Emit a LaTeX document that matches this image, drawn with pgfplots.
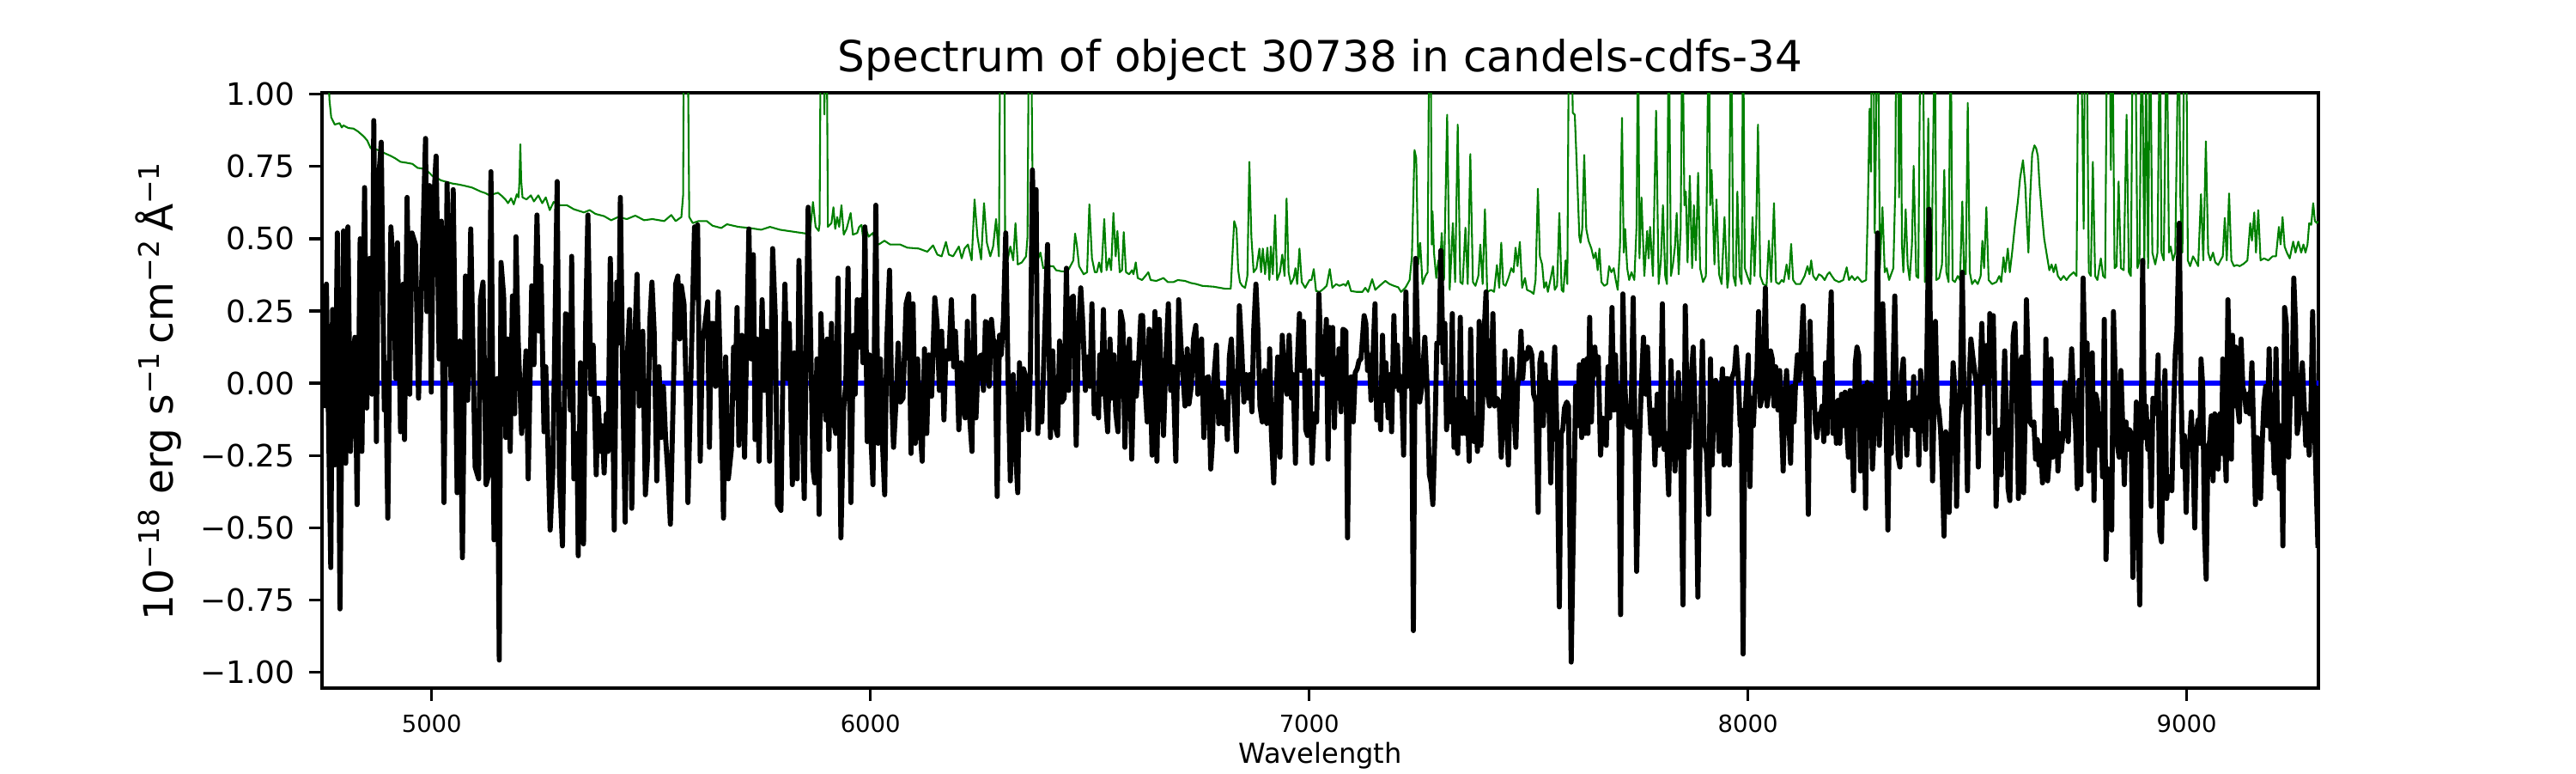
\documentclass[border=0pt]{standalone}
\usepackage{fontspec}
\setmainfont{DejaVu Sans}
\usepackage{pgfplots}
\usepackage{pgfplotstable}
\pgfplotsset{compat=1.18}
\definecolor{mplgreen}{RGB}{0,128,0}
\definecolor{mplblue}{RGB}{0,0,255}

\pgfplotstableread{
w f
4753 -0.086
4760 0.343
4770 -0.638
4774 0.255
4779 -0.283
4785 0.520
4791 -0.781
4799 0.527
4804 -0.277
4809 0.541
4815 -0.236
4820 0.078
4825 0.159
4830 -0.420
4837 0.500
4841 -0.236
4847 0.677
4852 -0.086
4859 0.432
4864 -0.038
4868 0.909
4874 -0.202
4879 0.704
4885 0.834
4892 -0.093
4895 0.071
4900 -0.467
4907 0.541
4913 0.384
4918 0.016
4922 0.486
4929 -0.168
4935 0.343
4938 -0.195
4944 0.643
4950 -0.038
4955 0.520
4963 0.480
4970 -0.052
4976 0.282
4986 0.847
4989 0.248
4995 0.684
4999 -0.031
5004 0.609
5010 0.786
5017 0.084
5022 0.561
5028 -0.413
5035 0.691
5044 0.010
5049 0.670
5058 -0.379
5064 0.146
5070 -0.604
5077 0.371
5082 -0.059
5089 0.534
5099 -0.290
5107 -0.331
5111 0.289
5117 0.350
5124 -0.351
5130 -0.317
5135 0.732
5142 -0.542
5149 0.016
5154 -0.958
5158 0.418
5164 0.302
5169 -0.188
5173 0.153
5179 -0.236
5184 0.302
5189 -0.106
5192 0.507
5197 0.153
5205 -0.174
5210 -0.052
5215 0.112
5220 -0.331
5228 0.337
5233 0.064
5240 0.582
5245 0.180
5249 0.405
5256 -0.168
5260 0.057
5270 -0.508
5276 -0.304
5286 0.698
5291 -0.311
5298 -0.563
5305 0.241
5311 0.234
5316 -0.093
5319 0.439
5324 -0.331
5331 -0.174
5334 -0.597
5339 0.071
5346 -0.556
5351 0.207
5356 0.582
5363 -0.038
5368 0.132
5375 -0.317
5379 -0.052
5385 -0.236
5389 -0.147
5393 -0.311
5398 -0.106
5402 -0.236
5407 0.432
5411 0.153
5416 -0.508
5422 0.350
5426 0.139
5430 0.643
5436 -0.052
5441 -0.481
5446 0.098
5451 0.255
5456 -0.433
5461 0.071
5468 0.377
5473 -0.079
5481 0.180
5487 -0.386
5492 -0.256
5497 0.207
5502 0.350
5507 0.180
5513 -0.338
5518 0.057
5523 -0.188
5528 -0.011
5533 -0.188
5539 -0.324
5544 -0.488
5550 -0.079
5556 0.343
5561 0.371
5565 0.153
5569 0.337
5575 0.275
5580 -0.025
5584 -0.413
5590 -0.025
5595 0.296
5599 0.541
5603 0.296
5606 0.548
5612 -0.270
5617 0.146
5622 0.193
5629 0.282
5633 -0.222
5637 0.207
5642 0.207
5647 -0.011
5653 0.316
5659 -0.025
5665 -0.467
5670 0.091
5676 -0.331
5683 -0.229
5688 0.125
5691 -0.052
5696 0.262
5700 -0.215
5707 0.166
5713 -0.256
5717 0.071
5723 0.534
5728 0.084
5733 0.445
5737 -0.195
5741 0.153
5746 -0.270
5753 0.289
5758 -0.025
5764 0.180
5770 -0.270
5777 0.466
5783 0.234
5788 -0.420
5796 -0.440
5800 -0.011
5805 0.343
5810 0.016
5815 0.207
5822 -0.351
5826 0.105
5833 -0.331
5837 0.425
5843 0.003
5849 -0.399
5858 0.609
5864 0.125
5869 -0.297
5873 -0.345
5878 0.084
5883 -0.454
5887 0.241
5892 0.030
5898.0 -0.127
5901.3 0.153
5905.2 -0.229
5911.1 0.207
5915.6 -0.127
5920.9 -0.174
5926.1 0.364
5932.6 -0.535
5939.1 -0.086
5943.7 -0.004
5948.9 0.398
5955.4 -0.413
5961.3 0.166
5965.2 -0.038
5969.8 0.289
5974.3 0.125
5978.3 0.289
5982.8 0.071
5987.4 0.541
5992.6 -0.202
5997.8 0.098
6001.1 -0.188
6005.7 -0.351
6012.2 0.616
6017.4 -0.208
6022.6 0.084
6027.2 -0.202
6032.4 -0.386
6037.0 0.139
6043.5 0.391
6048.1 -0.038
6052.6 -0.222
6059.1 -0.038
6063.1 0.139
6068.3 -0.065
6074.1 -0.052
6081.3 0.275
6087.2 0.309
6092.4 -0.243
6097.0 0.275
6102.2 -0.208
6107.4 0.084
6112.6 -0.147
6117.9 -0.270
6123.1 0.119
6128.3 -0.174
6132.9 0.098
6139.4 -0.045
6146.6 0.296
6151.8 0.207
6157.0 -0.025
6162.2 0.180
6167.4 -0.127
6172.0 0.112
6178.5 0.084
6184.4 0.289
6189.6 0.057
6193.5 0.180
6197.4 0.044
6201.4 -0.161
6206.6 0.071
6211.1 -0.079
6215.7 -0.120
6220.9 0.214
6226.1 -0.120
6231.4 -0.236
6235.3 0.302
6240.5 -0.120
6245.7 0.084
6252.2 0.098
6257.5 -0.025
6262.0 0.214
6266.6 0.207
6270.5 -0.011
6275.7 0.221
6279.6 0.153
6284.2 0.139
6288.8 -0.392
6294.0 0.166
6297.9 0.098
6303.1 0.221
6308.3 0.520
6313.5 0.023
6318.8 -0.338
6325.3 0.030
6330.5 -0.229
6335.7 -0.379
6339.6 0.071
6344.9 -0.161
6348.8 0.050
6354.6 0.016
6360.5 -0.161
6364.4 0.044
6369.0 0.738
6374.2 0.405
6377.5 0.670
6381.4 -0.174
6385.3 -0.031
6390.5 -0.134
6397.0 0.166
6403.6 0.480
6410.1 -0.188
6415.3 0.112
6420.5 -0.147
6426.4 -0.181
6431.0 0.146
6436.2 -0.065
6441.4 -0.052
6446.6 0.398
6451.8 -0.025
6455.7 0.289
6462.4 0.302
6468.9 -0.215
6474.1 0.180
6479.3 0.330
6483.9 0.207
6489.8 -0.025
6495.0 0.091
6500.2 -0.011
6504.8 0.275
6510.0 -0.106
6514.6 -0.052
6519.8 -0.120
6522.4 0.098
6526.3 -0.038
6530.9 0.255
6535.4 -0.052
6540.6 -0.168
6545.9 0.153
6550.4 -0.052
6555.0 0.098
6558.9 -0.099
6564.1 -0.168
6570.0 0.248
6575.2 0.207
6579.8 -0.222
6585.0 0.084
6590.2 0.153
6595.4 -0.263
6600.7 0.071
6605.9 -0.045
6611.1 0.071
6616.3 0.234
6620.2 0.234
6625.4 0.003
6630.7 -0.134
6635.2 0.187
6641.8 -0.249
6648.3 0.248
6652.8 -0.270
6658.1 0.221
6663.3 -0.011
6667.8 -0.181
6673.7 0.098
6678.9 0.275
6684.2 -0.025
6689.4 0.057
6695.9 -0.270
6702.4 0.289
6707.6 0.132
6711.5 0.044
6716.8 -0.079
6722.0 0.119
6725.9 -0.072
6731.1 -0.011
6736.3 0.153
6741.5 0.200
6746.1 -0.038
6750.7 -0.011
6754.6 0.153
6759.8 -0.188
6765.0 0.016
6770.3 0.023
6775.5 -0.297
6779.4 -0.202
6783.3 0.030
6788.5 0.132
6793.7 -0.140
6799.0 -0.025
6804.2 -0.140
6809.4 -0.065
6813.3 -0.195
6817.9 0.091
6822.4 0.153
6827.7 -0.025
6834.2 -0.236
6840.7 0.268
6845.9 0.125
6851.1 -0.065
6856.4 0.030
6860.3 -0.052
6864.2 0.030
6869.4 -0.099
6873.3 0.180
6878.5 0.343
6883.1 0.180
6887.7 -0.079
6892.9 -0.134
6898.1 0.044
6903.3 -0.140
6907.2 -0.134
6909.8 0.119
6913.8 -0.174
6919.0 -0.345
6924.2 -0.079
6928.1 0.091
6933.3 -0.256
6938.5 0.166
6943.8 0.003
6949.0 -0.038
6954.2 0.166
6959.4 -0.052
6963.3 0.030
6968.6 -0.277
6972.5 0.057
6977.7 0.241
6981.6 0.044
6986.8 0.214
6992.0 -0.161
6996.0 -0.181
7000.5 0.044
7006.4 -0.277
7011.6 -0.106
7016.8 -0.134
7022.0 0.309
7027.3 0.071
7031.2 0.030
7035.1 0.084
7039.0 0.221
7042.9 -0.263
7046.8 0.193
7050.7 0.071
7053.4 0.193
7057.3 -0.154
7061.2 0.084
7065.1 -0.052
7067.7 0.119
7072.3 -0.099
7076.8 0.187
7083.4 0.180
7087.3 -0.535
7091.8 0.016
7096.4 0.023
7100.3 -0.134
7104.9 0.037
7109.4 0.050
7113.4 0.078
7117.9 0.084
7121.2 0.153
7125.1 0.234
7129.0 0.207
7132.9 0.044
7136.8 0.098
7140.8 -0.059
7145.3 0.098
7149.9 0.275
7153.8 -0.127
7157.7 -0.025
7162.9 -0.161
7166.9 0.166
7170.8 -0.059
7174.7 0.071
7179.9 -0.120
7183.8 0.030
7187.7 -0.168
7192.9 0.234
7196.9 -0.011
7200.8 0.132
7204.7 -0.025
7209.9 0.023
7215.1 -0.249
7220.3 0.316
7224.3 -0.011
7228.2 0.153
7233.4 0.044
7237.3 -0.856
7242.5 0.432
7246.4 0.193
7251.7 -0.065
7256.9 -0.011
7263.4 0.159
7268.6 -0.011
7273.8 -0.317
7277.7 -0.345
7281.7 -0.420
7286.9 -0.147
7290.8 0.139
7296.0 0.139
7299.9 0.459
7305.1 0.071
7309.1 0.207
7313.0 -0.161
7316.9 -0.052
7322.1 -0.134
7326.0 0.241
7329.9 -0.222
7333.8 -0.161
7338.4 -0.243
7344.3 0.228
7348.2 -0.174
7352.1 -0.052
7356.0 -0.174
7359.9 -0.065
7364.5 -0.270
7367.8 0.187
7372.3 -0.161
7375.6 -0.202
7379.5 -0.120
7383.4 -0.236
7387.3 0.214
7391.2 -0.215
7395.2 -0.065
7399.1 0.193
7403.0 0.316
7406.9 -0.038
7410.8 -0.079
7414.7 0.010
7418.6 0.241
7422.6 -0.079
7427.8 -0.052
7433.0 -0.065
7437.6 -0.256
7442.1 -0.086
7446.0 0.112
7450.0 -0.147
7453.9 -0.283
7457.8 -0.025
7461.7 0.084
7466.9 -0.106
7470.8 -0.222
7474.7 -0.011
7478.7 0.044
7482.6 0.180
7486.5 0.016
7490.4 0.105
7495.6 0.084
7499.5 0.125
7503.4 0.119
7507.3 0.098
7511.3 -0.038
7516.5 -0.065
7521.7 -0.447
7525.6 0.071
7529.5 0.105
7533.4 -0.147
7537.4 0.064
7541.3 -0.093
7545.2 0.003
7550.4 -0.345
7555.6 0.003
7559.5 0.125
7564.8 -0.188
7570.0 -0.774
7573.9 -0.174
7577.8 -0.161
7581.7 -0.086
7586.9 -0.065
7590.9 -0.079
7597.0 -0.965
7607.2 -0.011
7611.7 -0.147
7615.6 0.064
7620.9 -0.188
7624.8 0.078
7628.7 -0.174
7632.6 0.084
7635.2 -0.174
7639.1 0.228
7643.0 -0.134
7647.0 0.071
7650.9 0.125
7654.8 0.030
7658.7 0.091
7663.9 -0.249
7669.1 -0.120
7673.0 -0.127
7677.0 -0.215
7680.9 0.057
7684.8 -0.120
7690.0 0.262
7693.9 -0.093
7697.8 0.098
7701.7 -0.093
7705.0 -0.011
7709.6 -0.801
7714.8 0.309
7720.0 -0.031
7725.2 -0.147
7733.0 -0.154
7738.3 0.296
7742.2 -0.147
7746.1 -0.651
7751.3 -0.256
7756.5 -0.025
7761.7 0.159
7767.0 -0.038
7770.9 0.125
7774.8 -0.052
7778.7 -0.174
7783.9 -0.093
7787.8 -0.283
7793.1 -0.038
7797.0 -0.215
7800.9 -0.079
7804.8 0.275
7808.7 -0.229
7813.9 -0.174
7819.2 -0.386
7824.4 0.078
7829.6 -0.174
7833.5 -0.304
7837.4 -0.147
7841.3 0.037
7846.5 -0.243
7851.8 -0.767
7857.0 0.268
7860.9 -0.065
7864.8 -0.222
7870.0 0.010
7875.2 0.125
7880.5 -0.161
7885.7 -0.740
7890.9 -0.188
7896.1 0.146
7900.0 -0.202
7905.3 -0.236
7910.5 -0.454
7914.4 0.084
7918.3 -0.283
7922.2 -0.093
7926.1 0.010
7930.0 -0.011
7934.0 -0.236
7937.9 -0.052
7941.8 0.050
7945.7 -0.283
7949.6 0.016
7953.5 0.016
7957.4 -0.283
7962.7 0.016
7969.2 0.044
7973.1 0.125
7978.3 0.003
7982.2 -0.147
7984.8 -0.093
7988.8 -0.937
7992.7 -0.134
7996.6 -0.011
8000.5 0.098
8004.4 -0.358
8008.3 -0.052
8012.2 -0.147
8016.1 -0.011
8020.1 0.030
8024.0 0.248
8027.9 -0.079
8031.8 -0.052
8035.7 0.084
8039.6 0.330
8043.5 -0.079
8047.5 -0.025
8051.4 0.112
8055.3 0.084
8059.2 -0.079
8063.1 0.057
8068.3 -0.093
8072.2 0.044
8076.2 -0.120
8080.1 -0.304
8084.0 -0.052
8087.9 0.044
8091.8 -0.093
8097.0 -0.277
8100.9 -0.011
8104.9 -0.134
8108.8 0.016
8112.7 0.098
8116.6 0.010
8120.5 0.098
8125.7 0.268
8129.6 0.071
8133.6 -0.093
8137.5 -0.454
8141.4 0.214
8145.3 -0.038
8149.2 0.016
8153.1 -0.134
8157.0 -0.188
8162.3 -0.106
8164.9 -0.120
8168.8 -0.079
8172.7 -0.202
8176.6 0.071
8180.5 -0.174
8184.4 0.098
8189.7 0.316
8193.6 -0.174
8197.5 -0.065
8201.4 -0.208
8205.3 -0.059
8209.2 -0.208
8213.1 -0.038
8217.1 -0.147
8221.0 -0.031
8224.9 -0.154
8228.8 -0.256
8232.7 -0.025
8236.6 -0.161
8240.5 -0.372
8244.5 0.071
8248.4 0.125
8252.3 0.098
8256.2 -0.304
8260.1 -0.038
8264.0 -0.011
8267.9 -0.433
8271.8 0.003
8275.8 -0.188
8279.7 -0.004
8283.6 -0.297
8287.5 -0.161
8291.4 -0.038
8295.3 0.520
8299.2 -0.215
8303.2 -0.052
8307.1 0.275
8311.0 0.071
8314.9 -0.147
8318.8 -0.508
8322.7 -0.065
8326.6 -0.243
8330.6 0.044
8334.5 0.302
8338.4 -0.065
8342.3 -0.256
8346.2 -0.290
8350.1 0.030
8354.0 0.084
8358.0 -0.120
8361.9 -0.249
8365.8 -0.072
8369.7 -0.065
8373.6 -0.147
8377.5 0.023
8381.4 -0.161
8385.3 -0.052
8389.3 -0.283
8393.2 0.044
8397.1 -0.045
8401.0 -0.113
8404.9 -0.229
8408.8 0.221
8412.7 0.602
8416.7 0.003
8420.6 -0.338
8424.5 -0.038
8427.1 0.214
8431.0 -0.065
8434.9 -0.093
8438.8 -0.161
8442.7 -0.311
8446.7 -0.529
8450.6 -0.168
8454.5 -0.215
8458.4 -0.447
8462.3 -0.202
8467.5 0.071
8471.5 -0.025
8475.4 -0.426
8479.3 -0.106
8483.2 -0.079
8488.4 0.384
8492.3 -0.065
8496.2 -0.038
8500.1 -0.372
8504.1 0.016
8508.0 0.153
8511.9 0.098
8515.8 0.050
8521.0 -0.011
8524.9 -0.290
8528.9 0.016
8532.8 0.207
8536.7 0.003
8540.6 0.125
8544.5 0.132
8548.4 -0.174
8551.0 0.241
8554.9 0.084
8558.9 0.234
8561.5 0.030
8565.4 -0.426
8569.3 -0.229
8573.2 -0.161
8577.1 -0.317
8581.0 -0.093
8585.0 0.112
8588.9 -0.106
8592.8 -0.365
8596.7 -0.406
8600.6 -0.093
8604.5 0.166
8608.4 0.207
8612.4 -0.011
8616.3 -0.399
8620.2 0.071
8624.1 0.091
8628.0 -0.379
8631.9 -0.093
8634.5 0.289
8638.4 0.071
8642.4 -0.134
8647.6 -0.147
8651.5 -0.134
8655.4 -0.263
8659.3 -0.195
8663.2 -0.283
8667.1 -0.215
8671.1 -0.345
8675.0 -0.263
8678.9 0.153
8682.8 -0.338
8686.7 -0.263
8690.6 0.084
8694.5 -0.256
8698.5 -0.229
8702.4 -0.093
8706.3 -0.304
8710.2 -0.174
8714.1 -0.236
8718.0 -0.174
8721.9 0.003
8725.9 -0.106
8729.8 -0.202
8732.4 -0.065
8737.6 0.119
8742.2 -0.065
8746.7 -0.161
8750.6 -0.365
8754.5 0.010
8758.5 -0.351
8763.7 0.364
8767.6 0.084
8772.8 0.139
8776.7 -0.304
8780.6 -0.174
8784.6 0.105
8788.5 -0.406
8792.4 -0.038
8796.3 -0.065
8800.2 -0.215
8804.1 -0.106
8808.0 -0.324
8812.0 0.221
8815.9 -0.610
8821.1 -0.297
8825.0 -0.338
8828.9 -0.508
8832.8 0.248
8836.7 0.044
8840.7 -0.202
8845.9 -0.256
8849.8 0.044
8853.7 -0.134
8857.6 -0.351
8861.5 -0.134
8865.4 -0.229
8869.4 -0.161
8873.3 -0.174
8877.2 -0.672
8881.1 -0.324
8885.0 -0.065
8888.9 -0.474
8892.8 -0.767
8896.8 -0.065
8899.4 0.425
8903.3 -0.188
8907.2 -0.079
8911.1 -0.229
8915.0 -0.134
8918.9 -0.426
8922.8 -0.052
8926.8 -0.106
8930.7 -0.079
8934.6 0.098
8938.5 -0.515
8942.4 -0.549
8946.3 -0.202
8950.2 0.044
8954.2 -0.399
8958.1 -0.324
8962.0 -0.324
8965.9 -0.372
8969.8 -0.106
8973.7 0.098
8977.6 0.180
8982.9 0.554
8986.8 -0.011
8990.7 -0.290
8994.6 -0.181
8998.5 -0.447
9002.4 -0.215
9006.3 -0.215
9010.3 -0.099
9014.2 -0.243
9018.1 -0.501
9022.0 -0.174
9025.9 -0.127
9029.8 -0.208
9032.4 0.084
9036.3 -0.011
9040.3 -0.515
9044.2 -0.678
9048.1 -0.222
9052.0 -0.202
9055.9 -0.113
9059.8 -0.338
9063.7 -0.106
9067.7 -0.215
9071.6 -0.297
9075.5 -0.106
9079.4 -0.243
9082.0 0.084
9085.9 -0.202
9089.8 -0.338
9093.7 0.289
9097.7 -0.011
9101.6 -0.263
9104.2 0.166
9108.1 -0.079
9112.0 0.125
9115.9 -0.079
9119.8 -0.134
9123.7 0.153
9127.7 -0.011
9131.6 -0.038
9135.5 -0.099
9139.4 -0.038
9143.3 -0.106
9148.5 0.071
9152.4 -0.181
9156.4 -0.420
9160.3 -0.188
9164.2 -0.202
9168.1 -0.399
9172.0 -0.202
9175.9 -0.065
9179.8 -0.011
9183.8 -0.147
9187.7 0.119
9191.6 -0.195
9195.5 -0.147
9199.4 -0.311
9203.3 0.119
9207.2 -0.174
9211.2 -0.365
9215.1 -0.147
9219.0 -0.563
9222.9 0.262
9226.8 0.207
9232.0 -0.256
9235.9 -0.038
9239.9 -0.038
9243.8 0.364
9247.7 0.207
9251.6 -0.174
9255.5 -0.134
9259.4 -0.011
9263.3 0.071
9267.3 -0.065
9271.2 -0.215
9275.1 -0.106
9279.0 -0.249
9282.9 -0.093
9286.8 0.248
9292.0 -0.190
9299.0 -0.570
}\blackdata

\pgfplotstableread{
w f
4750 1.5
4764 1.1
4767 0.98
4771 0.92
4779 0.895
4790 0.900
4795 0.885
4799 0.892
4810 0.883
4822 0.881
4833 0.870
4845 0.854
4853 0.840
4861 0.813
4870 0.812
4877 0.807
4887 0.800
4897 0.793
4906 0.787
4916 0.779
4923 0.772
4929 0.766
4942 0.763
4956 0.759
4968 0.745
4978 0.743
4988 0.738
5001 0.718
5010 0.712
5021 0.702
5033 0.697
5047 0.691
5060 0.688
5073 0.684
5092 0.677
5102 0.670
5112 0.663
5122 0.658
5132 0.650
5142 0.655
5151 0.659
5160 0.648
5168 0.636
5174 0.623
5181 0.640
5187 0.619
5194 0.654
5198 0.643
5200 0.700
5202 0.827
5204 0.700
5207 0.643
5216 0.636
5226 0.650
5233 0.629
5243 0.650
5252 0.623
5260 0.643
5269 0.599
5278 0.627
5291 0.616
5308 0.616
5324 0.602
5347 0.591
5360 0.599
5373 0.586
5393 0.578
5409 0.564
5425 0.575
5445 0.568
5464 0.580
5484 0.564
5503 0.568
5530 0.561
5546 0.582
5556 0.561
5569 0.575
5573 0.650
5575 1.3
5583 1.3
5587 0.575
5595 0.554
5608 0.561
5627 0.561
5640 0.545
5660 0.537
5673 0.550
5699 0.541
5725 0.537
5751 0.531
5771 0.541
5794 0.531
5830 0.523
5853 0.518
5862 0.520
5869 0.627
5875 0.541
5882 0.527
5884 0.550
5887 1.3
5893 1.3
5895 0.93
5897 1.3
5900 1.3
5903 0.541
5911.1 0.554
5915.6 0.609
5919.6 0.534
5924.1 0.575
5928.7 0.541
5933.9 0.616
5939.1 0.514
5945.6 0.534
5954.8 0.589
5960.0 0.514
5969.8 0.520
5974.3 0.541
5979.6 0.548
5982.8 0.507
5989.4 0.534
5995.9 0.507
6005.7 0.520
6012.2 0.486
6018.7 0.480
6031.8 0.493
6044.8 0.480
6067.6 0.480
6084.0 0.469
6110.0 0.466
6129.6 0.455
6142.6 0.477
6152.4 0.445
6162.2 0.439
6172.0 0.489
6178.5 0.445
6188.3 0.439
6201.4 0.473
6207.9 0.432
6214.4 0.466
6222.2 0.480
6230.7 0.425
6237.2 0.636
6243.8 0.507
6252.2 0.428
6258.8 0.623
6265.3 0.486
6273.1 0.439
6279.6 0.473
6286.2 0.568
6292.7 0.439
6296.0 1.3
6305.0 1.3
6307.0 0.439
6312.3 0.425
6318.8 0.473
6325.3 0.425
6330.5 0.554
6335.7 0.411
6344.9 0.418
6354.6 0.439
6357.9 0.507
6361.2 1.3
6365.7 1.3
6371.0 0.439
6377.5 0.411
6387.3 0.452
6393.8 0.398
6403.6 0.405
6416.6 0.405
6423.1 0.391
6436.2 0.387
6449.2 0.387
6462.4 0.425
6466.3 0.518
6470.2 0.480
6475.4 0.405
6480.6 0.391
6485.9 0.377
6493.7 0.384
6498.9 0.619
6504.8 0.432
6511.3 0.384
6515.9 0.384
6521.1 0.418
6526.3 0.384
6532.8 0.568
6538.0 0.391
6543.9 0.432
6548.5 0.391
6553.7 0.589
6558.9 0.439
6562.8 0.527
6568.0 0.384
6573.3 0.391
6577.2 0.523
6582.4 0.384
6589.6 0.377
6596.1 0.391
6599.4 0.377
6604.6 0.418
6609.1 0.364
6619.0 0.357
6626.7 0.371
6633.3 0.384
6638.5 0.357
6651.5 0.354
6667.8 0.364
6677.6 0.350
6690.7 0.350
6700.5 0.357
6716.8 0.354
6729.8 0.347
6742.9 0.343
6755.9 0.337
6782.0 0.334
6808.1 0.327
6821.1 0.327
6825.0 0.445
6829.0 0.561
6834.2 0.534
6838.1 0.391
6842.0 0.350
6847.2 0.337
6853.8 0.330
6859.0 0.371
6863.5 0.766
6868.1 0.507
6873.3 0.384
6879.8 0.398
6886.4 0.466
6890.3 0.384
6894.2 0.466
6899.4 0.377
6904.6 0.469
6909.2 0.357
6912.5 0.473
6917.0 0.377
6922.2 0.582
6926.8 0.357
6933.3 0.384
6938.5 0.445
6943.8 0.371
6948.3 0.639
6952.9 0.384
6958.1 0.343
6964.6 0.364
6968.6 0.398
6972.5 0.343
6977.7 0.466
6982.9 0.350
6990.7 0.330
7000.5 0.357
7005.1 0.357
7010.3 0.395
7015.5 0.319
7023.3 0.316
7029.9 0.323
7039.7 0.337
7046.8 0.395
7052.7 0.330
7061.2 0.343
7069.0 0.337
7078.8 0.343
7083.4 0.337
7088.6 0.354
7095.1 0.319
7108.1 0.316
7121.2 0.316
7127.7 0.330
7134.2 0.316
7143.4 0.360
7150.5 0.323
7160.3 0.337
7173.4 0.354
7183.2 0.343
7192.9 0.337
7202.7 0.332
7209.3 0.316
7219.0 0.330
7228.8 0.357
7234.0 0.439
7239.9 0.807
7243.8 0.779
7248.4 0.411
7252.9 0.486
7258.2 0.343
7264.7 0.371
7269.9 0.384
7273.5 1.3
7276.5 1.3
7279.1 0.480
7281.0 0.595
7284.3 0.452
7289.5 0.364
7294.1 0.425
7297.3 0.377
7301.9 0.520
7307.1 0.357
7314.3 0.929
7320.1 0.323
7327.3 0.554
7332.5 0.350
7338.4 0.895
7344.3 0.350
7349.5 0.343
7356.0 0.538
7361.2 0.343
7367.1 0.793
7373.0 0.350
7378.8 0.337
7385.4 0.371
7389.9 0.480
7395.2 0.343
7400.4 0.602
7405.6 0.316
7414.7 0.323
7421.3 0.316
7427.8 0.409
7433.0 0.330
7437.6 0.486
7442.1 0.343
7447.3 0.337
7453.9 0.364
7460.4 0.398
7465.6 0.384
7470.2 0.469
7474.7 0.405
7480.0 0.489
7485.2 0.330
7491.7 0.364
7496.3 0.323
7506.0 0.316
7511.3 0.309
7515.8 0.357
7521.1 0.673
7525.6 0.439
7530.8 0.411
7535.4 0.330
7539.9 0.350
7543.9 0.316
7550.4 0.364
7555.6 0.405
7559.5 0.323
7564.8 0.337
7570.0 0.589
7575.2 0.323
7579.1 0.316
7584.3 0.425
7588.2 0.343
7592.0 1.3
7597.4 1.3
7600.6 0.936
7605.2 0.929
7610.4 0.725
7615.6 0.507
7618.2 0.486
7622.2 0.534
7626.7 0.790
7631.3 0.534
7636.5 0.493
7643.0 0.466
7648.2 0.432
7652.8 0.452
7657.4 0.391
7661.3 0.466
7665.9 0.350
7672.4 0.337
7678.9 0.343
7683.5 0.405
7688.7 0.384
7693.9 0.398
7698.5 0.357
7703.0 0.323
7708.3 0.480
7712.8 0.918
7716.7 0.452
7720.0 0.534
7724.6 0.398
7729.1 0.357
7734.4 0.384
7740.9 0.357
7746.1 0.548
7749.4 1.3
7752.6 0.432
7757.2 0.643
7763.7 0.371
7770.2 0.527
7773.5 0.432
7776.8 0.541
7783.3 0.371
7790.5 0.943
7796.3 0.343
7801.5 0.425
7806.1 0.616
7811.3 0.371
7815.2 0.343
7819.2 1.3
7824.4 0.371
7828.9 0.411
7833.5 0.473
7837.4 0.589
7842.0 0.377
7846.5 0.534
7850.5 1.3
7855.0 0.616
7858.3 0.663
7862.2 0.418
7867.4 0.718
7872.6 0.398
7876.6 0.616
7881.1 0.425
7886.3 0.728
7890.9 0.398
7897.4 0.350
7904.0 0.371
7910.5 1.3
7913.7 0.616
7917.0 0.738
7923.5 0.411
7928.1 0.636
7934.0 0.377
7939.8 0.343
7946.4 0.575
7952.9 0.330
7956.1 0.371
7961.4 1.3
7966.6 0.371
7971.8 0.337
7975.7 0.663
7980.9 0.371
7985.5 0.343
7988.8 1.3
7992.7 0.398
7998.5 0.371
8005.1 0.343
8010.3 0.575
8014.8 0.371
8018.8 0.548
8022.7 0.895
8027.9 0.371
8034.4 0.343
8042.2 0.337
8047.5 0.493
8052.7 0.350
8059.2 0.623
8063.8 0.350
8070.3 0.343
8076.8 0.357
8081.4 0.350
8087.9 0.411
8093.1 0.360
8098.3 0.482
8102.9 0.357
8109.4 0.343
8119.2 0.343
8129.0 0.371
8135.5 0.405
8140.1 0.377
8144.0 0.425
8148.6 0.371
8155.1 0.357
8161.6 0.377
8168.1 0.371
8174.7 0.357
8181.2 0.377
8185.7 0.384
8191.0 0.371
8197.5 0.357
8207.3 0.350
8217.1 0.357
8224.9 0.401
8230.1 0.357
8236.6 0.371
8243.1 0.357
8249.7 0.368
8259.5 0.350
8269.2 0.357
8273.2 0.616
8277.1 0.950
8280.3 0.732
8282.3 1.3
8285.5 1.3
8288.8 0.520
8292.1 0.888
8294.0 1.3
8296.6 1.3
8300.5 0.398
8306.4 0.609
8311.6 0.384
8316.2 0.398
8321.4 0.357
8331.2 0.398
8335.8 0.684
8337.7 1.3
8341.0 1.3
8344.3 0.643
8347.5 1.3
8350.8 0.480
8354.0 0.384
8359.3 0.602
8363.8 0.411
8368.4 0.357
8373.6 0.480
8377.5 0.752
8383.4 0.371
8388.0 0.364
8393.2 1.3
8398.4 1.3
8403.0 0.350
8406.2 0.384
8410.8 0.916
8414.1 0.425
8418.0 0.371
8422.5 0.888
8425.8 1.3
8429.1 0.357
8435.6 0.364
8442.1 0.411
8447.3 0.738
8451.9 0.384
8457.1 0.350
8461.7 1.3
8466.2 0.357
8471.5 0.350
8478.0 0.371
8483.2 0.357
8488.4 0.629
8492.3 0.384
8496.2 0.377
8500.8 0.970
8505.4 0.384
8510.6 0.343
8517.1 0.357
8523.6 0.343
8530.2 0.371
8534.1 0.493
8538.0 0.398
8543.2 0.609
8548.4 0.357
8556.3 0.343
8566.0 0.350
8572.6 0.371
8577.1 0.350
8582.3 0.436
8586.3 0.384
8592.1 0.466
8596.7 0.384
8601.9 0.452
8608.4 0.548
8615.0 0.629
8620.2 0.711
8626.7 0.772
8631.9 0.684
8635.8 0.548
8639.1 0.452
8643.0 0.643
8647.6 0.793
8652.8 0.823
8656.7 0.813
8660.6 0.786
8664.5 0.684
8670.4 0.575
8675.0 0.500
8681.5 0.439
8686.7 0.391
8691.9 0.411
8696.5 0.384
8701.1 0.411
8706.3 0.371
8712.8 0.357
8719.3 0.371
8725.9 0.357
8732.4 0.371
8742.2 0.384
8748.7 0.371
8753.2 1.3
8758.5 1.3
8765.0 0.534
8768.2 1.3
8771.5 1.3
8776.7 0.384
8781.3 0.371
8785.9 0.766
8791.1 0.371
8796.3 0.357
8804.1 0.432
8809.3 0.371
8813.9 0.364
8818.5 1.3
8823.7 1.3
8827.0 0.738
8830.2 1.3
8835.4 0.398
8840.0 0.405
8844.6 0.698
8849.8 0.398
8856.3 0.391
8862.8 0.929
8868.0 0.384
8872.6 0.371
8877.2 1.3
8882.4 1.3
8887.6 0.398
8892.2 0.425
8897.4 1.3
8903.3 0.411
8907.2 1.1
8911.8 0.398
8916.3 1.3
8921.5 0.452
8928.1 0.411
8933.3 0.452
8938.5 1.3
8942.4 0.452
8947.6 0.425
8954.2 1.3
8959.4 0.452
8963.3 0.473
8968.5 0.425
8973.7 0.452
8981.6 1.3
8985.5 0.629
8990.0 0.452
8994.6 1.3
8998.5 1.3
9002.4 0.425
9007.6 0.405
9014.2 0.439
9019.4 0.425
9025.9 0.405
9032.4 0.654
9037.6 0.425
9043.5 0.837
9048.7 0.452
9053.9 0.425
9059.8 0.452
9065.0 0.418
9071.6 0.409
9076.8 0.425
9082.0 0.439
9086.6 0.572
9091.1 0.425
9096.4 0.657
9101.6 0.425
9107.4 0.405
9114.0 0.409
9120.5 0.405
9130.3 0.414
9138.1 0.425
9144.6 0.554
9148.5 0.493
9153.8 0.591
9157.7 0.452
9162.9 0.599
9168.1 0.425
9176.0 0.432
9185.7 0.425
9195.5 0.439
9203.3 0.439
9209.9 0.541
9213.8 0.480
9218.3 0.575
9222.9 0.473
9228.1 0.452
9234.6 0.432
9242.5 0.490
9247.7 0.452
9254.2 0.490
9260.7 0.452
9265.9 0.480
9270.5 0.452
9275.1 0.480
9279.0 0.554
9283.6 0.548
9288.1 0.623
9292.0 0.561
9296.6 0.554
9300.0 0.560
}\greendata

\begin{document}
\begin{tikzpicture}
\path[use as bounding box] (0,0) rectangle (720bp,216bp);
\begin{axis}[
  at={(90bp,23.76bp)}, anchor=south west,
  width=558bp, height=166.32bp, scale only axis,
  xmin=4750, xmax=9300, ymin=-1.055, ymax=1.005,
  axis line style={line width=0.8bp},
  xtick={5000,6000,7000,8000,9000},
  xticklabels={5000,6000,7000,8000,9000},
  ytick={-1,-0.75,-0.5,-0.25,0,0.25,0.5,0.75,1},
  yticklabels={−1.00,−0.75,−0.50,−0.25,0.00,0.25,0.50,0.75,1.00},
  tick align=outside, xtick pos=lower, ytick pos=left,
  major tick length=3.5bp,
  every tick/.style={line width=0.8bp, black},
  xticklabel style={font=\fontsize{6.6bp}{8bp}\selectfont, inner sep=0pt, anchor=base, yshift=-8.8bp},
  yticklabel style={font=\fontsize{8.6bp}{10bp}\selectfont, inner sep=0pt, anchor=east, xshift=-3.9bp},
  every axis title shift=0pt,
  title={Spectrum of object 30738 in candels-cdfs-34},
  title style={font=\fontsize{12bp}{14bp}\selectfont, inner sep=0pt, at={(0.5,1)}, anchor=base, yshift=5.8bp},
  xlabel={Wavelength},
  xlabel style={font=\fontsize{7.7bp}{9bp}\selectfont, inner sep=0pt, at={(0.5,0)}, anchor=base, yshift=-20.9bp},
  ylabel={10\textsuperscript{−18} erg s\textsuperscript{−1}\,cm\textsuperscript{−2}\,Å\textsuperscript{−1}},
  ylabel style={font=\fontsize{11.3bp}{13bp}\selectfont, inner sep=0pt, at={(0,0.5)}, anchor=base, yshift=41.6bp},
  clip=true,
]
\addplot[mplgreen, line width=0.5bp, line join=round] table[x=w, y=f] {\greendata};
\addplot[mplblue, line width=1.6bp] coordinates {(4740,0) (9310,0)};
\addplot[black, line width=1.4bp, line join=round] table[x=w, y=f] {\blackdata};
\end{axis}
\end{tikzpicture}
\end{document}
